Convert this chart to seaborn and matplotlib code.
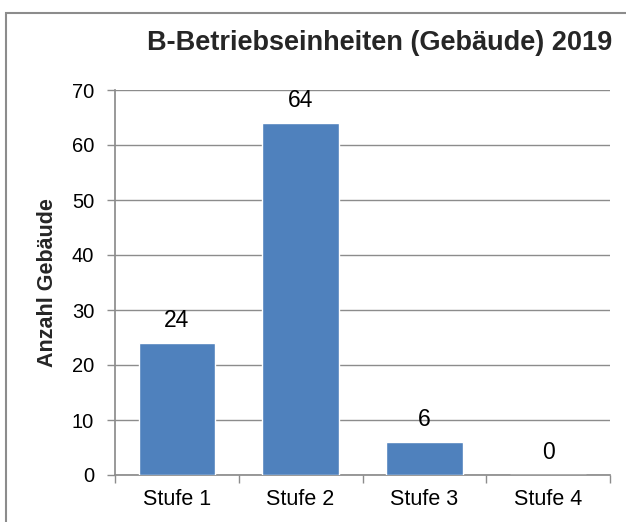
import matplotlib
matplotlib.use("Agg")
import matplotlib.pyplot as plt
import seaborn as sns
import pandas as pd
from matplotlib.patches import Rectangle

categories = ["Stufe 1", "Stufe 2", "Stufe 3", "Stufe 4"]
values = [24, 64, 6, 0]
yticks = [0, 10, 20, 30, 40, 50, 60, 70]
title = "B-Betriebseinheiten (Gebäude) 2019"
ylabel = "Anzahl Gebäude"

sns.set_theme(style="white")
plt.rcParams['font.family'] = ['Liberation Sans', 'DejaVu Sans']

df = pd.DataFrame({"cat": categories, "val": values})

fig = plt.figure(figsize=(6.26, 5.22), dpi=100)
ax = fig.add_axes([115/626, 1-475/522, (610-115)/626, (475-90)/522])

sns.barplot(data=df, x="cat", y="val", color="#4F81BD", saturation=1,
            width=0.62, ax=ax, zorder=3)

ax.set_ylim(0, 70)
ax.set_xlim(-0.5, 3.5)
ax.set_yticks(yticks)
ax.yaxis.grid(True, color="#8c8c8c", linewidth=1.0, zorder=0)
ax.set_axisbelow(True)
for s in ["top", "right"]:
    ax.spines[s].set_visible(False)
ax.spines["left"].set_color("#8c8c8c")
ax.spines["bottom"].set_color("#8c8c8c")

ax.tick_params(axis="y", length=6, width=1, color="#8c8c8c", labelsize=14.5,
               labelcolor="black", left=True, pad=9)
ax.set_xticks([-0.5, 0.5, 1.5, 2.5, 3.5], minor=True)
ax.tick_params(axis="x", which="minor", length=6, width=1, color="#8c8c8c", bottom=True)
ax.tick_params(axis="x", which="major", length=0, labelsize=15.5, labelcolor="black", pad=10)

ax.set_xlabel("")
ax.set_ylabel(ylabel, fontsize=15.5, fontweight="bold")
ax.yaxis.set_label_coords(-0.116, 0.5)

for c in ax.containers:
    ax.bar_label(c, labels=[str(v) for v in values], padding=8, fontsize=16.5, color="black")

fig.text(380/626, 1-43/522, title, fontsize=19.5, fontweight="bold", ha="center", va="center")

rect = Rectangle((6/626, -0.05), 1.1, 1-13/522+0.05, transform=fig.transFigure,
                 fill=False, edgecolor="#8c8c8c", linewidth=1.5, clip_on=False)
fig.patches.append(rect)

fig.savefig("out.png", dpi=100)
